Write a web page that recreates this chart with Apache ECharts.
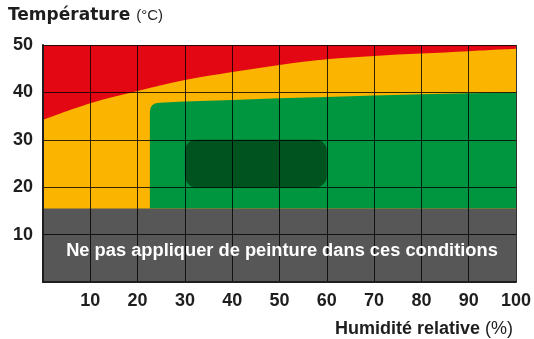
<!DOCTYPE html>
<html>
<head>
<meta charset="utf-8">
<script src="https://cdn.jsdelivr.net/npm/echarts@6/dist/echarts.min.js"></script>
<style>
  html, body { margin: 0; padding: 0; background: #ffffff; }
  #chart { width: 534px; height: 339px; }
</style>
</head>
<body>
<div id="chart"></div>
<script>
// Humidity (%) along x, temperature (°C) along y
const humidityTicks = [0, 10, 20, 30, 40, 50, 60, 70, 80, 90, 100];
const temperatureTicks = [0, 10, 20, 30, 40, 50];

// Upper limit of the acceptable (yellow) zone; above it is red
const redLimitHumidity = [0, 10, 20, 30, 40, 50, 60, 70, 80, 90, 100];
const redLimitTemp     = [34.2, 37.7, 40.3, 42.6, 44.3, 45.8, 47.0, 47.7, 48.2, 48.7, 49.2];

// Top edge of the recommended (green) zone
const greenHumidity = [22.6, 30, 40, 50, 60, 70, 80, 90, 100];
const greenTopTemp  = [37.8, 38.1, 38.4, 38.75, 39.05, 39.35, 39.6, 39.8, 40.0];

// Optimal (dark green) window
const optimalHumidity = [30, 60];
const optimalTemp     = [20, 30];

// Forbidden zone: temperature below this value
const forbiddenTemp = 15.5;
const forbiddenText = 'Ne pas appliquer de peinture dans ces conditions';

const RED = '#e30613', YELLOW = '#fbb400', GREEN = '#009640', DARK = '#00521f', GRAY = '#575757';
const INK = '#1e1e1e';
const FONT = 'Liberation Sans';
const TITLE_FONT = 'DejaVu Sans';

const chart = echarts.init(document.getElementById('chart'), null, { renderer: 'canvas' });

const axisCommon = {
  type: 'value',
  z: 10,
  axisTick: { show: false },
  axisLine: { show: true, lineStyle: { color: INK, width: 2 } },
  splitLine: { show: true, lineStyle: { color: 'rgba(0,0,0,0.8)', width: 1 } },
  axisLabel: { color: INK, fontFamily: FONT, fontWeight: 'bold', fontSize: 18, margin: 10 }
};

const option = {
  animation: false,
  grid: { left: 43, right: 18, top: 45, bottom: 57, show: true, backgroundColor: RED, borderWidth: 0 },
  xAxis: Object.assign({}, axisCommon, {
    min: humidityTicks[0], max: humidityTicks[humidityTicks.length - 1], interval: 10,
    axisLabel: Object.assign({}, axisCommon.axisLabel, {
      formatter: v => (v === 0 ? '' : String(v))
    })
  }),
  yAxis: Object.assign({}, axisCommon, {
    min: temperatureTicks[0], max: temperatureTicks[temperatureTicks.length - 1], interval: 10,
    axisLabel: Object.assign({}, axisCommon.axisLabel, {
      formatter: v => (v === 0 ? '' : String(v))
    })
  }),
  series: [
    {
      // yellow zone below the red limit curve
      type: 'line',
      z: 1,
      smooth: 0.35,
      symbol: 'none',
      lineStyle: { width: 0 },
      areaStyle: { color: YELLOW, opacity: 1 },
      data: redLimitHumidity.map((h, i) => [h, redLimitTemp[i]])
    },
    {
      // green zone with a rounded top-left corner
      type: 'custom',
      z: 2,
      data: [0],
      renderItem: (params, api) => {
        const r = 9;
        const bottom = api.coord([greenHumidity[0], forbiddenTemp]);
        const first = api.coord([greenHumidity[0], greenTopTemp[0]]);
        let d = `M${bottom[0]},${bottom[1]} L${first[0]},${first[1] + r} Q${first[0]},${first[1]} ${first[0] + r},${first[1] - 0.2}`;
        for (let i = 1; i < greenHumidity.length; i++) {
          const p = api.coord([greenHumidity[i], greenTopTemp[i]]);
          d += ` L${p[0]},${p[1]}`;
        }
        const br = api.coord([greenHumidity[greenHumidity.length - 1], forbiddenTemp]);
        d += ` L${br[0]},${br[1]} Z`;
        return { type: 'path', shape: { pathData: d }, style: { fill: GREEN } };
      }
    },
    {
      // optimal window
      type: 'custom',
      z: 3,
      data: [0],
      renderItem: (params, api) => {
        const tl = api.coord([optimalHumidity[0], optimalTemp[1]]);
        const br = api.coord([optimalHumidity[1], optimalTemp[0]]);
        return {
          type: 'rect',
          shape: { x: tl[0], y: tl[1], width: br[0] - tl[0], height: br[1] - tl[1], r: 11 },
          style: { fill: DARK }
        };
      }
    },
    {
      // forbidden low-temperature band
      type: 'custom',
      z: 4,
      data: [0],
      renderItem: (params, api) => {
        const tl = api.coord([humidityTicks[0], forbiddenTemp]);
        const br = api.coord([humidityTicks[humidityTicks.length - 1], temperatureTicks[0]]);
        return {
          type: 'rect',
          shape: { x: tl[0], y: tl[1], width: br[0] - tl[0], height: br[1] - tl[1] },
          style: { fill: GRAY }
        };
      }
    }
  ],
  graphic: [
    {
      type: 'text', x: 8, y: 16, z: 20,
      style: {
        rich: {
          a: { fontFamily: TITLE_FONT, fontWeight: 'bold', fontSize: 17, fill: INK },
          b: { fontFamily: FONT, fontWeight: 'normal', fontSize: 15, fill: INK }
        },
        text: '{a|Température }{b|(°C)}',
        verticalAlign: 'middle'
      }
    },
    {
      type: 'text', x: 513, y: 329, z: 20,
      style: {
        rich: {
          a: { fontFamily: FONT, fontWeight: 'bold', fontSize: 18, fill: INK },
          b: { fontFamily: FONT, fontWeight: 'normal', fontSize: 18, fill: INK }
        },
        text: '{a|Humidité relative }{b|(%)}',
        align: 'right',
        verticalAlign: 'middle'
      }
    },
    {
      type: 'text', x: 282, y: 250.5, z: 20,
      style: {
        text: forbiddenText,
        fill: '#ffffff',
        fontFamily: FONT,
        fontWeight: 'bold',
        fontSize: 18.3,
        align: 'center',
        verticalAlign: 'middle'
      }
    }
  ]
};

chart.setOption(option);
</script>
</body>
</html>
